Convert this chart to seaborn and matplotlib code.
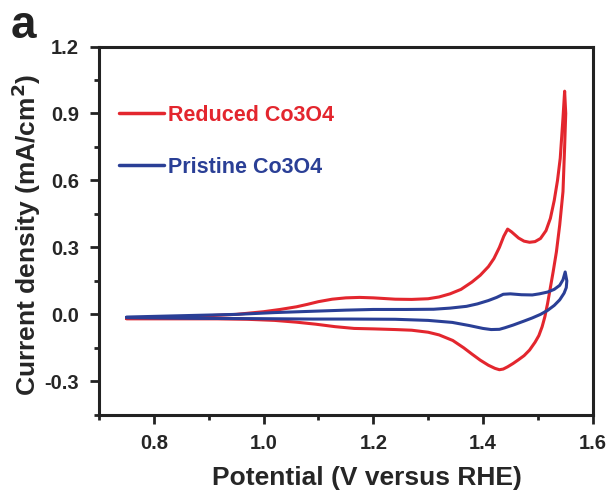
import numpy as np
import pandas as pd
import matplotlib
matplotlib.use("Agg")
import matplotlib.pyplot as plt
import seaborn as sns
from matplotlib.ticker import MultipleLocator

# ---- data ----
red_x_fwd = [0.75, 0.85, 0.95, 1.00, 1.03, 1.06, 1.08, 1.10, 1.125, 1.15, 1.175, 1.20, 1.24, 1.27,
             1.30, 1.32, 1.34, 1.36, 1.38, 1.395, 1.41, 1.42, 1.43, 1.438, 1.445, 1.452, 1.465,
             1.475, 1.485, 1.495, 1.505, 1.515, 1.523, 1.530, 1.536, 1.541, 1.546, 1.549]
red_y_fwd = [-0.018, -0.012, 0.000, 0.012, 0.022, 0.034, 0.045, 0.057, 0.068, 0.074, 0.076,
             0.074, 0.068, 0.067, 0.070, 0.078, 0.092, 0.112, 0.145, 0.175, 0.214, 0.250, 0.300,
             0.350, 0.382, 0.370, 0.342, 0.328, 0.323, 0.326, 0.340, 0.375, 0.430, 0.510, 0.600,
             0.700, 0.880, 1.000]
red_x_rev = [1.551, 1.549, 1.546, 1.540, 1.534, 1.528, 1.523, 1.518, 1.513, 1.508, 1.502, 1.495,
             1.485, 1.475, 1.465, 1.455, 1.445, 1.437, 1.430, 1.422, 1.410, 1.395, 1.380, 1.365,
             1.345, 1.320, 1.300, 1.270, 1.240, 1.200, 1.165, 1.130, 1.095, 1.060, 1.020, 0.970,
             0.915, 0.850, 0.750]
red_y_rev = [0.90, 0.75, 0.55, 0.40, 0.28, 0.19, 0.12, 0.05, -0.01, -0.055, -0.095, -0.125,
             -0.160, -0.185, -0.203, -0.220, -0.235, -0.245, -0.248, -0.242, -0.228, -0.205,
             -0.178, -0.150, -0.117, -0.092, -0.080, -0.071, -0.068, -0.065, -0.063, -0.055,
             -0.044, -0.035, -0.027, -0.022, -0.020, -0.020, -0.020]

blue_x_fwd = [0.75, 0.85, 0.95, 1.02, 1.09, 1.15, 1.20, 1.26, 1.31, 1.34, 1.37, 1.39, 1.41,
              1.425, 1.437, 1.45, 1.47, 1.49, 1.503, 1.518, 1.53, 1.540, 1.546, 1.550]
blue_y_fwd = [-0.012, -0.006, 0.000, 0.008, 0.014, 0.019, 0.022, 0.022, 0.023, 0.028, 0.036,
              0.047, 0.062, 0.076, 0.090, 0.092, 0.088, 0.087, 0.092, 0.100, 0.112, 0.130, 0.155,
              0.190]
blue_x_rev = [1.553, 1.552, 1.548, 1.540, 1.530, 1.518, 1.505, 1.490, 1.475, 1.455, 1.440,
              1.430, 1.415, 1.400, 1.375, 1.344, 1.300, 1.240, 1.160, 1.090, 0.980, 0.880, 0.750]
blue_y_rev = [0.150, 0.120, 0.095, 0.065, 0.040, 0.018, 0.000, -0.016, -0.030, -0.048, -0.060,
              -0.067, -0.068, -0.063, -0.050, -0.036, -0.027, -0.022, -0.021, -0.021, -0.019,
              -0.018, -0.015]

labels = ["Reduced Co3O4", "Pristine Co3O4"]
colors = ["#E3262E", "#2A3F96"]
x_ticks = [0.8, 1.0, 1.2, 1.4, 1.6]
y_ticks = [-0.3, 0.0, 0.3, 0.6, 0.9, 1.2]

# ---- build frame ----
rows = []
for lab, xs, ys in [(labels[0], red_x_fwd + red_x_rev, red_y_fwd + red_y_rev),
                    (labels[1], blue_x_fwd + blue_x_rev, blue_y_fwd + blue_y_rev)]:
    for i, (x, y) in enumerate(zip(xs, ys)):
        rows.append({"series": lab, "order": i, "E": x, "j": y})
df = pd.DataFrame(rows)

sns.set_theme(style="white")
plt.rcParams["font.family"] = ["Liberation Sans", "DejaVu Sans"]
plt.rcParams["font.weight"] = "bold"

fig = plt.figure(figsize=(6.16, 4.95), dpi=100)
ax = fig.add_axes([0.161, 0.162, 0.801, 0.744])

sns.lineplot(data=df, x="E", y="j", hue="series", units="series", estimator=None,
             sort=False, palette=dict(zip(labels, colors)), linewidth=2.2, ax=ax)
for ln in ax.get_lines():
    ln.set_solid_joinstyle("round")

ax.set_xlim(0.7, 1.6)
ax.set_ylim(-0.45, 1.2)
ax.set_xticks(x_ticks)
ax.set_yticks(y_ticks)
ax.xaxis.set_minor_locator(MultipleLocator(0.1))
ax.yaxis.set_minor_locator(MultipleLocator(0.15))
ax.set_xticklabels([f"{t:.1f}" for t in x_ticks], fontsize=14.5, fontweight="bold")
ax.set_yticklabels([f"{t:.1f}" for t in y_ticks], fontsize=14.5, fontweight="bold")
ax.tick_params(which="major", direction="out", length=6.5, width=2, color="#222222",
               bottom=True, left=True, top=False, right=False)
ax.tick_params(which="minor", direction="out", length=3.5, width=2, color="#222222",
               bottom=True, left=True, top=False, right=False)
ax.tick_params(axis="x", which="major", pad=7)
ax.tick_params(axis="y", which="major", pad=8)
for s in ax.spines.values():
    s.set_linewidth(2.2)
    s.set_color("#222222")

ax.set_xlabel("Potential (V versus RHE)", fontsize=19, fontweight="bold")
ax.set_ylabel("Current density (mA/cm$^\\mathbf{2}$)", fontsize=19, fontweight="bold")
ax.xaxis.set_label_coords(0.543, -0.138)
ax.yaxis.set_label_coords(-0.113, 0.49)

leg = ax.legend(loc="upper left", bbox_to_anchor=(0.0, 0.895), frameon=False,
                handlelength=2.1, handletextpad=0.2, labelspacing=1.45,
                labelcolor="linecolor", prop={"weight": "bold", "size": 15.5})
for lh in leg.get_lines():
    lh.set_linewidth(2.5)

fig.text(0.018, 1 - 38 / 495, "a", fontsize=33, fontweight="bold", color="#222222",
         va="baseline")

fig.savefig("out.png", dpi=100)
